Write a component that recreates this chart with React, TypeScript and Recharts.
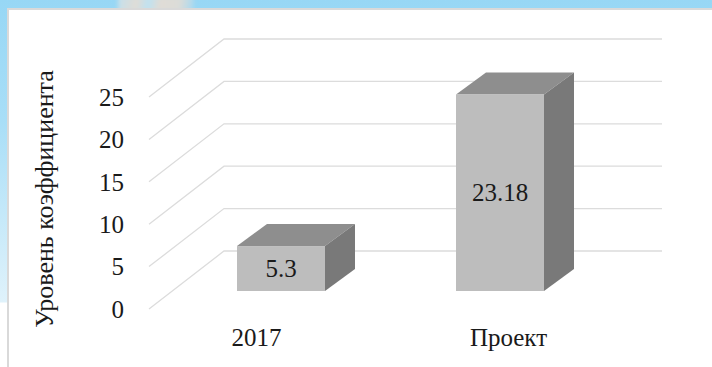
import { BarChart, Bar, XAxis, YAxis, CartesianGrid, LabelList } from 'recharts';

const categories = ['2017', 'Проект'];
const values = [5.3, 23.18];
const yTicks = [0, 5, 10, 15, 20, 25];
const yAxisTitle = 'Уровень коэффициента';

const chartData = categories.map((name, i) => ({ name, value: values[i] }));

const FONT = '"Liberation Serif", serif';
const TEXT = '#1a1a1a';

// pseudo-3d offsets, in px
const WALL_DX = 75;
const WALL_DY = 58;
const FRONT_DX = 23;
const FRONT_DY = 18;
const BAR_DX = 30;
const BAR_DY = 22;

// the category labels do not sit under the bars in the original
const LABEL_SHIFT: Record<string, number> = { '2017': -2, 'Проект': 31 };

function GridLine(props: any) {
    const { x1, x2, y1, index } = props;
    return (
        <polyline
            key={index}
            points={`${x1},${y1} ${x1 + WALL_DX},${y1 - WALL_DY} ${x2 + WALL_DX},${y1 - WALL_DY}`}
            fill="none"
            stroke="#dcdcdc"
            strokeWidth={1.3}
        />
    );
}

function Box(props: any) {
    const { x, y, width, height } = props;
    const left = x + FRONT_DX - 1;
    const right = left + width;
    const top = y - FRONT_DY;
    const bottom = top + height;
    return (
        <g>
            <polygon
                points={`${left},${top} ${left + BAR_DX},${top - BAR_DY} ${right + BAR_DX},${top - BAR_DY} ${right},${top}`}
                fill="#8e8e8e"
            />
            <polygon
                points={`${right},${top} ${right + BAR_DX},${top - BAR_DY} ${right + BAR_DX},${bottom - BAR_DY} ${right},${bottom}`}
                fill="#797979"
            />
            <rect x={left} y={top} width={width} height={height} fill="#bdbdbd" />
        </g>
    );
}

function BoxLabel(props: any) {
    const { x, y, width, height, value } = props;
    return (
        <text
            x={x + FRONT_DX + width / 2 - 1}
            y={y - FRONT_DY + height / 2}
            dy={8}
            textAnchor="middle"
            fontFamily={FONT}
            fontSize={25}
            fill={TEXT}
        >
            {value}
        </text>
    );
}

function CategoryTick(props: any) {
    const { x, payload } = props;
    return (
        <text x={x + LABEL_SHIFT[payload.value]} y={346} textAnchor="middle" fontFamily={FONT} fontSize={25} fill={TEXT}>
            {payload.value}
        </text>
    );
}

export default function App() {
    return (
        <div
            style={{
                position: 'absolute',
                left: 0,
                top: 0,
                width: 712,
                height: 367,
                overflow: 'hidden',
                background: 'linear-gradient(180deg, #97d7f5 0px, #a8def7 120px, #dff2fb 302px, #ffffff 303px)',
            }}
        >
            {/* pale streaks of the slide background, above the panel */}
            <div
                style={{
                    position: 'absolute',
                    left: 118,
                    top: -4,
                    width: 76,
                    height: 16,
                    filter: 'blur(2px)',
                    background: 'linear-gradient(100deg, #c4e0ec 0%, #e0dcd6 25%, #bfe2f1 40%, #e0dcd6 55%, #dbdcd8 80%, #a5d9f2 100%)',
                }}
            />
            <div
                style={{
                    position: 'absolute',
                    left: 7,
                    top: 8,
                    width: 705,
                    height: 359,
                    background: '#fff',
                    borderLeft: '2px solid #d9d9d9',
                    borderTop: '2px solid #d9d9d9',
                    boxSizing: 'border-box',
                }}
            />
            <div
                style={{
                    position: 'absolute',
                    left: 45,
                    top: 199,
                    transform: 'translate(-50%, -50%) rotate(-90deg)',
                    whiteSpace: 'nowrap',
                    fontFamily: FONT,
                    fontSize: 26,
                    color: TEXT,
                }}
            >
                {yAxisTitle}
            </div>
            <BarChart
                width={712}
                height={367}
                data={chartData}
                margin={{ top: 97, right: 125, bottom: 0, left: 0 }}
                barSize={88}
                style={{ position: 'absolute', left: 0, top: 0 }}
            >
                <CartesianGrid vertical={false} horizontal={GridLine} />
                <XAxis dataKey="name" axisLine={false} tickLine={false} height={58} tick={CategoryTick} interval={0} />
                <YAxis
                    domain={[0, 25]}
                    ticks={yTicks}
                    width={149}
                    axisLine={false}
                    tickLine={false}
                    tickMargin={19}
                    tick={{ fontFamily: FONT, fontSize: 25, fill: TEXT }}
                />
                <Bar dataKey="value" shape={Box} isAnimationActive={false}>
                    <LabelList dataKey="value" content={BoxLabel} />
                </Bar>
            </BarChart>
        </div>
    );
}
